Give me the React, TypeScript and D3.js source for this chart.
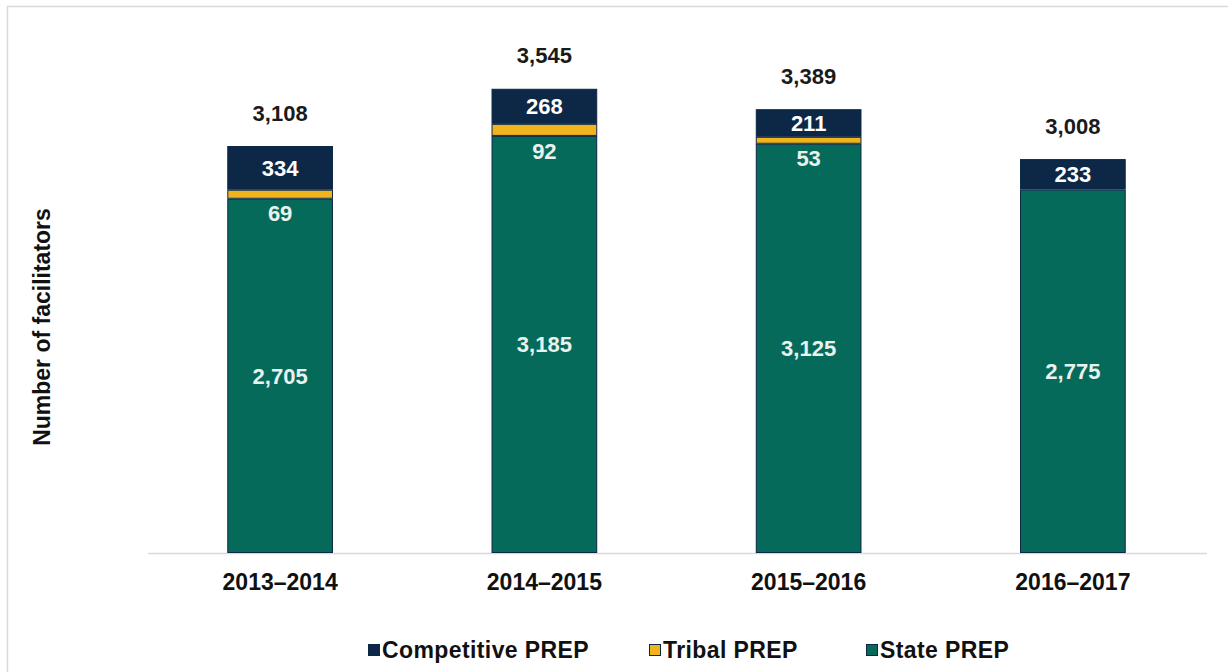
import React, { useRef, useEffect } from 'react';
import * as d3 from 'd3';

const years = ['2013–2014', '2014–2015', '2015–2016', '2016–2017'];
const statePrep = [2705, 3185, 3125, 2775];
const tribalPrep = [69, 92, 53, 0];
const competitivePrep = [334, 268, 211, 233];
const seriesNames = ['Competitive PREP', 'Tribal PREP', 'State PREP'];

const App = () => {
  const svgRef = useRef<SVGSVGElement>(null);

  useEffect(() => {
    const width = 1228;
    const height = 672;
    const font = 'Liberation Sans, Arial, sans-serif';
    const colors = { state: '#066a5a', tribal: '#f0b41c', comp: '#0d2747' };

    const svg = d3.select(svgRef.current)
      .attr('width', width)
      .attr('height', height);

    svg.selectAll('*').remove();

    // outer frame
    svg.append('rect')
      .attr('x', 7.5).attr('y', 6.5)
      .attr('width', width + 20).attr('height', height + 20)
      .attr('fill', 'white')
      .attr('stroke', '#d9d9d9')
      .attr('stroke-width', 1.5);

    const rows = years.map((year, i) => ({
      year,
      state: statePrep[i],
      tribal: tribalPrep[i],
      comp: competitivePrep[i],
      total: statePrep[i] + tribalPrep[i] + competitivePrep[i],
    }));

    const x = d3.scaleBand()
      .domain(years)
      .range([148, 1205])
      .paddingInner(0.6)
      .paddingOuter(0.3);

    const y = d3.scaleLinear()
      .domain([0, 4000])
      .range([553, 553 - 4000 * (407 / 3108)]);

    // baseline
    svg.append('line')
      .attr('x1', 148).attr('x2', 1207)
      .attr('y1', y(0) + 0.5).attr('y2', y(0) + 0.5)
      .attr('stroke', '#d9d9d9')
      .attr('stroke-width', 1.5);

    const stack = d3.stack<any>().keys(['state', 'tribal', 'comp'])(rows);
    const fills = [colors.state, colors.tribal, colors.comp];

    stack.forEach((layer, li) => {
      svg.append('g')
        .selectAll('rect')
        .data(layer.filter(d => d[1] > d[0]))
        .enter()
        .append('rect')
        .attr('x', d => (x(d.data.year) as number) + 0.5)
        .attr('y', d => y(d[1]) + 0.5)
        .attr('width', x.bandwidth() - 1)
        .attr('height', d => y(d[0]) - y(d[1]) - 1)
        .attr('fill', fills[li])
        .attr('stroke', colors.comp)
        .attr('stroke-width', 1);
    });

    const labels = svg.append('g')
      .attr('font-family', font)
      .attr('font-weight', 'bold')
      .attr('text-anchor', 'middle');

    rows.forEach(d => {
      const cx = (x(d.year) as number) + x.bandwidth() / 2;
      // state label
      labels.append('text')
        .attr('x', cx)
        .attr('y', (y(0) + y(d.state)) / 2)
        .attr('dy', '0.35em')
        .attr('font-size', 22)
        .attr('fill', '#e8f3ef')
        .text(d3.format(',')(d.state));
      // tribal label, drawn just under the thin yellow segment
      if (d.tribal > 0) {
        labels.append('text')
          .attr('x', cx)
          .attr('y', y(d.state) + 15)
          .attr('dy', '0.35em')
          .attr('font-size', 22)
          .attr('fill', '#e8f3ef')
          .text(d.tribal);
      }
      // competitive label
      labels.append('text')
        .attr('x', cx)
        .attr('y', (y(d.state + d.tribal) + y(d.total)) / 2)
        .attr('dy', '0.35em')
        .attr('font-size', 22)
        .attr('fill', 'white')
        .text(d.comp);
      // total
      labels.append('text')
        .attr('x', cx)
        .attr('y', y(d.total) - 33)
        .attr('dy', '0.35em')
        .attr('font-size', 22)
        .attr('fill', '#1a1a1a')
        .text(d3.format(',')(d.total));
    });

    // x axis labels
    svg.append('g')
      .attr('transform', `translate(0,${y(0)})`)
      .call(d3.axisBottom(x).tickSize(0).tickPadding(21))
      .call(g => g.select('.domain').remove())
      .selectAll('text')
      .attr('font-family', font)
      .attr('font-weight', 'bold')
      .attr('font-size', 23)
      .attr('fill', '#111');

    // y title
    svg.append('text')
      .attr('transform', 'translate(50,327) rotate(-90)')
      .attr('text-anchor', 'middle')
      .attr('font-family', font)
      .attr('font-weight', 'bold')
      .attr('font-size', 23)
      .attr('fill', '#111')
      .text('Number of facilitators');

    // legend
    const legendItems = [
      { name: seriesNames[0], color: colors.comp, x: 368 },
      { name: seriesNames[1], color: colors.tribal, x: 649 },
      { name: seriesNames[2], color: colors.state, x: 866 },
    ];
    const legend = svg.append('g');
    legendItems.forEach(item => {
      legend.append('rect')
        .attr('x', item.x + 0.5).attr('y', 644.5)
        .attr('width', 11).attr('height', 11)
        .attr('fill', item.color)
        .attr('stroke', colors.comp)
        .attr('stroke-width', 1);
      legend.append('text')
        .attr('x', item.x + 14)
        .attr('y', 650)
        .attr('dy', '0.35em')
        .attr('font-family', font)
        .attr('font-weight', 'bold')
        .attr('font-size', 23)
        .attr('letter-spacing', 0.4)
        .attr('fill', '#111')
        .text(item.name);
    });
  }, []);

  return <svg ref={svgRef} style={{ position: 'absolute', left: 0, top: 0, display: 'block' }}></svg>;
};

export default App;
